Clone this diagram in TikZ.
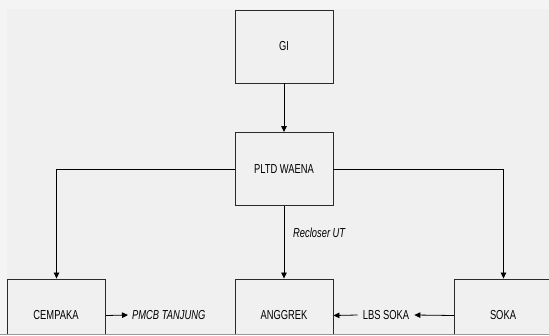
\documentclass[tikz,border=0pt]{standalone}
\usepackage{fontspec}
\newfontfamily\nf[FakeStretch=0.72]{Liberation Sans}
\usetikzlibrary{arrows.meta}
\definecolor{bgout}{HTML}{F4F4F4}
\definecolor{bgin}{HTML}{F0F0F0}
\definecolor{boxline}{HTML}{2A2A2A}
\begin{document}
\begin{tikzpicture}[x=1pt,y=-1pt,
  box/.style={draw=boxline,line width=0.9pt,fill=bgin,minimum width=98pt,minimum height=73pt,inner sep=0pt,font=\nf\fontsize{13}{15}\selectfont},
  lbl/.style={inner sep=0pt,inner xsep=4pt,font=\nf\fontsize{13}{15}\selectfont},
  conn/.style={draw=black,line width=0.8pt,-{Triangle[length=6pt,width=5.5pt]}}]
\useasboundingbox (0,0) rectangle (549,335);
\fill[bgout] (0,0) rectangle (549,335);
\fill[bgin] (7,9) rectangle (549,335);
\begin{scope}
\clip (0,0) rectangle (549,333.5);
\node[box] (gi) at (284,46.5) {GI};
\node[box] (pltd) at (284,169) {PLTD WAENA};
\node[box] (cempaka) at (56.5,315.5) {};
\node[box] (anggrek) at (284,315.5) {};
\node[box] (soka) at (503.5,315.5) {};
\node[font=\nf\fontsize{13}{15}\selectfont] (tc) at (56,315) {CEMPAKA};
\node[font=\nf\fontsize{13}{15}\selectfont] (ta) at (284,315) {ANGGREK};
\node[font=\nf\fontsize{13}{15}\selectfont] (ts) at (503,315) {SOKA};
\node[lbl,font=\nf\itshape\fontsize{13}{15}\selectfont,anchor=west] (pmcb) at (128,315) {PMCB TANJUNG};
\node[lbl,inner xsep=5pt] (lbs) at (386,315) {LBS SOKA};
\node[lbl,font=\nf\itshape\fontsize{13}{15}\selectfont,anchor=west,inner xsep=0pt] (rec) at (293,233) {Recloser UT};
\draw[conn] (gi.south) -- (pltd.north);
\draw[conn] (pltd.south) -- (anggrek.north);
\draw[conn] (pltd.west) -| (cempaka.north);
\draw[conn] (pltd.east) -| (soka.north);
\draw[conn] (cempaka.east) -- (pmcb.west);
\draw[conn] (soka.west) -- (lbs.east);
\draw[conn] (lbs.west) -- (anggrek.east);
\end{scope}
\draw[gray!80,line width=1pt] (0,334.5) -- (549,334.5);
\end{tikzpicture}
\end{document}
